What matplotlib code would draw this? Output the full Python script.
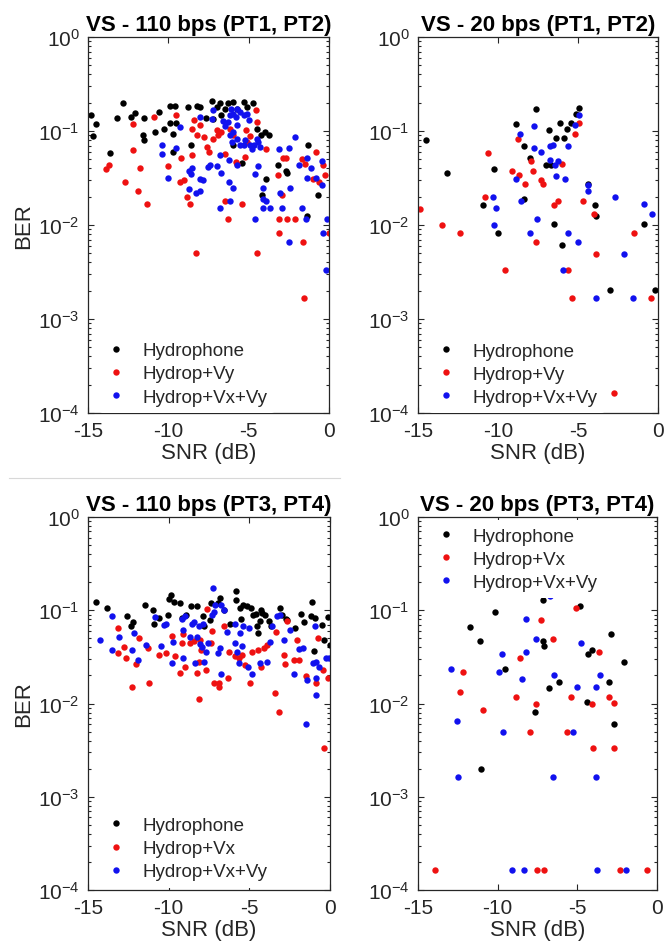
import matplotlib
matplotlib.use("Agg")
import matplotlib.pyplot as plt
from matplotlib.lines import Line2D
from matplotlib.ticker import LogLocator, NullFormatter, FixedLocator

plt.rcParams['font.family'] = ['Liberation Sans', 'DejaVu Sans']
plt.rcParams['mathtext.default'] = 'regular'

# ---------------- VS - 110 bps (PT1, PT2) ----------------
p1_hyd_snr = [-14.8, -14.5, -14.7, -13.2, -12.8, -12.1, -12.3, -11.5, -11.6, -11.5, -10.8, -13.6, -10.6,
              -10.3, -9.9, -9.9, -9.7, -9.6, -9.5, -9.7, -8.8, -8.6, -8.2, -8.0, -7.65, -7.3, -7.0, -6.8,
              -6.5, -6.3, -6.0, -5.7, -5.3, -5.1, -4.75, -4.5, -4.25, -4.0, -3.75, -5.95, -5.4, -3.9, -1.3,
              -3.15, -2.7, -2.6, -0.7, -4.2, -1.35, -7.2, -6.7]
p1_hyd_ber = [0.149, 0.118, 0.088, 0.139, 0.198, 0.155, 0.141, 0.138, 0.090, 0.080, 0.098, 0.059, 0.159,
              0.106, 0.183, 0.122, 0.094, 0.184, 0.122, 0.060, 0.180, 0.071, 0.183, 0.178, 0.139, 0.206,
              0.180, 0.198, 0.173, 0.198, 0.203, 0.173, 0.205, 0.180, 0.200, 0.106, 0.091, 0.098, 0.091,
              0.071, 0.046, 0.031, 0.071, 0.044, 0.038, 0.036, 0.021, 0.021, 0.0125, 0.135, 0.147]
p1_vy_snr = [-13.9, -13.7, -12.2, -12.2, -12.7, -11.9, -11.75, -11.3, -10.9, -10.0, -9.5, -9.2, -9.3, -9.0,
             -8.85, -8.65, -8.5, -8.4, -8.55, -8.2, -8.05, -7.8, -7.6, -7.45, -7.2, -7.0, -6.9, -6.75, -6.5,
             -6.45, -6.15, -5.95, -5.8, -5.7, -5.4, -5.15, -5.1, -4.9, -4.55, -4.5, -5.2, -3.9, -3.15, -2.95,
             -2.85, -2.7, -1.7, -1.5, -1.0, -0.8, -0.65, -0.35, -0.25, -6.3, -3.1, -2.6, -2.1, -3.1, -1.6,
             -8.3, -4.5, -1.55, -0.02]
p1_vy_ber = [0.039, 0.044, 0.120, 0.063, 0.029, 0.023, 0.040, 0.0166, 0.141, 0.042, 0.147, 0.052, 0.029,
             0.030, 0.020, 0.0166, 0.055, 0.130, 0.106, 0.090, 0.115, 0.086, 0.068, 0.060, 0.083, 0.102,
             0.091, 0.098, 0.057, 0.018, 0.106, 0.090, 0.047, 0.045, 0.0166, 0.102, 0.076, 0.088, 0.166,
             0.125, 0.053, 0.065, 0.034, 0.021, 0.051, 0.052, 0.050, 0.045, 0.031, 0.060, 0.029, 0.043,
             0.034, 0.0117, 0.0117, 0.0117, 0.0117, 0.0083, 0.0066, 0.0050, 0.0050, 0.00166, 0.0083]
p1_vxvy_snr = [-10.4, -10.4, -10.05, -9.5, -9.3, -8.7, -8.6, -8.5, -8.7, -8.3, -8.0, -8.05, -8.0, -7.85,
               -7.55, -7.4, -7.3, -7.2, -6.95, -6.8, -6.7, -6.6, -6.45, -6.3, -6.15, -6.1, -5.95, -5.8,
               -5.7, -5.75, -5.55, -5.3, -5.2, -5.1, -4.9, -4.8, -4.65, -4.5, -4.4, -4.3, -5.3, -5.0,
               -6.15, -6.05, -5.95, -5.75, -5.55, -6.25, -6.2, -5.95, -6.8, -6.15, -5.7, -4.6, -4.45,
               -4.1, -4.1, -3.9, -4.1, -3.7, -2.9, -3.1, -2.5, -2.1, -1.85, -2.4, -3.05, -1.35, -1.1,
               -0.45, -1.35, -0.8, -1.65, -1.45, -0.45, -0.1, -4.6, -2.5, -0.35, -0.2]
p1_vxvy_ber = [0.071, 0.057, 0.032, 0.066, 0.110, 0.038, 0.035, 0.040, 0.024, 0.022, 0.023, 0.141, 0.031,
               0.030, 0.041, 0.043, 0.135, 0.166, 0.042, 0.055, 0.036, 0.128, 0.112, 0.125, 0.147, 0.173,
               0.153, 0.141, 0.115, 0.173, 0.159, 0.071, 0.080, 0.153, 0.071, 0.065, 0.071, 0.083, 0.076,
               0.068, 0.147, 0.130, 0.090, 0.076, 0.098, 0.083, 0.071, 0.049, 0.029, 0.025, 0.015, 0.018,
               0.043, 0.035, 0.042, 0.025, 0.019, 0.018, 0.015, 0.015, 0.015, 0.064, 0.066, 0.086, 0.043,
               0.025, 0.022, 0.052, 0.040, 0.048, 0.032, 0.032, 0.015, 0.0117, 0.0265, 0.0115, 0.0117,
               0.0066, 0.0083, 0.0033]

# ---------------- VS - 20 bps (PT1, PT2) ----------------
p2_hyd_snr = [-14.5, -13.2, -10.95, -10.25, -10.0, -8.9, -8.4, -8.35, -8.0, -7.65, -7.0, -6.8, -6.7, -6.4,
              -6.1, -5.9, -5.7, -5.45, -5.1, -4.95, -4.35, -3.95, -3.85, -0.85, -6.5, -6.0, -3.0, -0.2]
p2_hyd_ber = [0.080, 0.0355, 0.0165, 0.039, 0.0083, 0.120, 0.069, 0.0187, 0.052, 0.173, 0.043, 0.102,
              0.043, 0.084, 0.123, 0.084, 0.104, 0.123, 0.153, 0.175, 0.027, 0.0165, 0.0124, 0.0103,
              0.0103, 0.0062, 0.00205, 0.00205]
p2_vy_snr = [-14.85, -13.5, -12.4, -10.8, -10.6, -9.15, -8.75, -8.7, -8.3, -7.95, -7.8, -7.3, -7.2, -6.5,
             -6.25, -6.0, -5.2, -4.95, -4.7, -4.0, -1.5, -7.6, -5.65, -5.4, -3.9, -9.55, -0.45, -2.75]
p2_vy_ber = [0.0147, 0.0100, 0.0083, 0.020, 0.058, 0.038, 0.083, 0.034, 0.027, 0.048, 0.038, 0.030, 0.027,
             0.0165, 0.018, 0.045, 0.094, 0.123, 0.018, 0.0132, 0.0083, 0.0066, 0.0033, 0.00166, 0.0049,
             0.0033, 0.00166, 0.000163]
p2_vxvy_snr = [-10.3, -10.15, -10.25, -8.85, -8.6, -8.55, -8.0, -7.75, -7.75, -7.55, -7.3, -6.75, -6.55,
               -6.75, -6.45, -6.25, -6.35, -5.8, -5.65, -5.6, -5.2, -4.95, -4.4, -4.35, -2.7, -0.9, -0.35,
               -5.0, -5.95, -3.85, -2.1, -1.55]
p2_vxvy_ber = [0.020, 0.015, 0.010, 0.031, 0.094, 0.018, 0.0083, 0.112, 0.066, 0.0115, 0.060, 0.069,
               0.0705, 0.049, 0.043, 0.048, 0.033, 0.031, 0.0083, 0.069, 0.117, 0.147, 0.0265, 0.023,
               0.020, 0.0166, 0.0132, 0.0066, 0.0033, 0.00166, 0.0049, 0.00166]

# ---------------- VS - 110 bps (PT3, PT4) ----------------
p3_hyd_snr = [-14.5, -13.8, -12.6, -12.35, -12.2, -11.45, -11.0, -10.9, -10.6, -10.05, -9.95, -9.85, -9.7,
              -9.3, -9.2, -8.9, -8.6, -8.25, -7.9, -7.8, -7.45, -7.35, -6.95, -6.8, -6.6, -6.2, -5.8, -5.8,
              -5.6, -5.5, -5.4, -5.15, -4.9, -4.8, -4.6, -4.55, -4.45, -4.35, -4.3, -4.2, -4.0, -3.8, -3.65,
              -3.1, -2.95, -2.7, -2.65, -2.15, -1.8, -1.6, -1.15, -1.1, -1.0, -0.95, -0.5, -0.35, -0.1, -0.02]
p3_hyd_ber = [0.123, 0.107, 0.087, 0.067, 0.074, 0.115, 0.101, 0.071, 0.082, 0.0895, 0.133, 0.147, 0.124,
              0.121, 0.082, 0.0895, 0.110, 0.110, 0.087, 0.068, 0.079, 0.119, 0.119, 0.135, 0.101, 0.072,
              0.162, 0.130, 0.107, 0.080, 0.115, 0.110, 0.106, 0.088, 0.092, 0.067, 0.057, 0.076, 0.101,
              0.093, 0.0895, 0.076, 0.067, 0.106, 0.0895, 0.080, 0.078, 0.064, 0.092, 0.074, 0.086, 0.124,
              0.037, 0.082, 0.069, 0.048, 0.084, 0.042]
p3_vx_snr = [-13.15, -13.15, -12.75, -12.65, -12.0, -11.85, -12.3, -11.3, -11.25, -10.6, -10.15, -9.8, -9.6,
             -9.3, -9.2, -9.1, -9.0, -8.7, -8.4, -8.25, -8.15, -8.15, -8.05, -8.0, -7.7, -7.6, -7.4, -7.3,
             -7.2, -6.9, -6.85, -6.6, -6.35, -6.25, -5.9, -5.65, -5.45, -5.25, -4.95, -4.85, -4.45, -4.3,
             -4.1, -3.9, -3.4, -3.35, -2.85, -2.8, -2.65, -2.25, -2.05, -1.9, -1.5, -0.85, -0.75, -0.45,
             -0.1, -3.15, -0.4]
p3_vx_ber = [0.064, 0.035, 0.040, 0.031, 0.0265, 0.051, 0.0149, 0.0395, 0.0167, 0.033, 0.035, 0.053, 0.032,
             0.0214, 0.044, 0.055, 0.0248, 0.045, 0.047, 0.0214, 0.028, 0.0113, 0.048, 0.0376, 0.023, 0.104,
             0.044, 0.060, 0.0164, 0.0167, 0.0149, 0.067, 0.0186, 0.036, 0.032, 0.0305, 0.033, 0.0259,
             0.0164, 0.036, 0.0376, 0.0248, 0.039, 0.0425, 0.013, 0.058, 0.033, 0.0265, 0.076, 0.029,
             0.048, 0.029, 0.0197, 0.0164, 0.050, 0.023, 0.0186, 0.0081, 0.0033]
p3_vxvy_snr = [-14.25, -13.5, -13.5, -13.05, -12.3, -12.15, -11.9, -11.4, -10.85, -10.5, -10.3, -10.15, -9.8,
               -9.75, -9.2, -9.1, -9.1, -9.0, -8.7, -8.55, -8.45, -8.35, -8.25, -8.15, -8.05, -7.95, -7.85,
               -7.8, -7.7, -7.55, -7.3, -7.2, -7.1, -6.95, -6.8, -6.75, -6.75, -6.55, -6.4, -5.9, -5.9,
               -5.75, -5.65, -5.55, -5.45, -5.4, -5.1, -5.05, -4.85, -4.35, -3.9, -3.75, -3.6, -3.3, -3.1,
               -2.85, -2.45, -2.25, -1.9, -1.7, -1.45, -1.05, -0.95, -0.85, -0.85, -0.7, -0.85, -0.25,
               -0.05, -1.5, -7.25]
p3_vxvy_ber = [0.048, 0.086, 0.0376, 0.052, 0.0376, 0.057, 0.029, 0.042, 0.084, 0.041, 0.070, 0.071, 0.027,
               0.046, 0.080, 0.031, 0.062, 0.086, 0.052, 0.072, 0.074, 0.027, 0.052, 0.067, 0.043, 0.040,
               0.071, 0.028, 0.036, 0.044, 0.088, 0.095, 0.115, 0.035, 0.039, 0.0205, 0.115, 0.101, 0.059,
               0.072, 0.044, 0.036, 0.027, 0.057, 0.041, 0.067, 0.0248, 0.064, 0.0207, 0.027, 0.028, 0.046,
               0.067, 0.086, 0.088, 0.048, 0.062, 0.0207, 0.038, 0.039, 0.018, 0.0274, 0.068, 0.0186,
               0.028, 0.0244, 0.0123, 0.031, 0.031, 0.0061, 0.173]

# ---------------- VS - 20 bps (PT3, PT4) ----------------
p4_hyd_snr = [-11.75, -11.1, -10.15, -9.55, -7.15, -7.15, -7.1, -6.75, -6.15, -4.85, -4.4, -4.35, -4.1,
              -3.0, -2.9, -2.1, -7.65, -11.05, -2.72]
p4_hyd_ber = [0.066, 0.047, 0.0955, 0.0232, 0.130, 0.0473, 0.0418, 0.0145, 0.0168, 0.112, 0.0105, 0.034,
              0.0376, 0.0168, 0.0554, 0.0277, 0.0082, 0.0020, 0.0061]
p4_vx_snr = [-12.35, -12.15, -10.95, -8.85, -8.6, -7.6, -7.25, -6.55, -5.4, -5.1, -4.1, -3.65, -3.0, -2.7,
             -8.0, -5.65, -4.0, -2.7, -13.95, -7.55, -7.1, -2.35, -0.6]
p4_vx_ber = [0.0134, 0.0219, 0.0086, 0.0118, 0.0305, 0.0100, 0.0777, 0.0489, 0.0118, 0.107, 0.0100,
             0.036, 0.0118, 0.0102, 0.0049, 0.0049, 0.0033, 0.0033, 0.000164, 0.000164, 0.000164,
             0.000164, 0.000164]
p4_vxvy_snr = [-12.95, -9.9, -9.75, -8.5, -8.25, -8.25, -7.6, -6.7, -6.45, -5.0, -4.75, -3.8, -3.6, -12.55,
               -9.65, -5.3, -12.5, -6.5, -3.8, -9.1, -8.35, -3.75, -1.95]
p4_vxvy_ber = [0.0236, 0.0219, 0.034, 0.0183, 0.0354, 0.081, 0.0489, 0.143, 0.0202, 0.0151, 0.0443, 0.0151,
               0.0202, 0.0065, 0.0049, 0.0049, 0.00162, 0.00162, 0.00162, 0.000164, 0.000164, 0.000164,
               0.000164]

titles = ['VS - 110 bps (PT1, PT2)', 'VS - 20 bps (PT1, PT2)',
          'VS - 110 bps (PT3, PT4)', 'VS - 20 bps (PT3, PT4)']
legend_labels = [['Hydrophone', 'Hydrop+Vy', 'Hydrop+Vx+Vy'],
                 ['Hydrophone', 'Hydrop+Vy', 'Hydrop+Vx+Vy'],
                 ['Hydrophone', 'Hydrop+Vx', 'Hydrop+Vx+Vy'],
                 ['Hydrophone', 'Hydrop+Vx', 'Hydrop+Vx+Vy']]
panels = [
    [(p1_hyd_snr, p1_hyd_ber), (p1_vy_snr, p1_vy_ber), (p1_vxvy_snr, p1_vxvy_ber)],
    [(p2_hyd_snr, p2_hyd_ber), (p2_vy_snr, p2_vy_ber), (p2_vxvy_snr, p2_vxvy_ber)],
    [(p3_hyd_snr, p3_hyd_ber), (p3_vx_snr, p3_vx_ber), (p3_vxvy_snr, p3_vxvy_ber)],
    [(p4_hyd_snr, p4_hyd_ber), (p4_vx_snr, p4_vx_ber), (p4_vxvy_snr, p4_vxvy_ber)],
]
colors = ['#000000', '#ee1111', '#1111ee']

W, H = 665, 953
fig = plt.figure(figsize=(W / 100, H / 100), dpi=100)
fig.patch.set_facecolor('white')

# axes boxes in pixels: left, top, right, bottom
boxes = [(88, 38, 329, 414), (418, 38, 658, 414),
         (88, 518, 330, 891), (418, 518, 657, 891)]
legend_pos = [('lower left', (0.0, -0.03)), ('lower left', (0.0, -0.031)),
              ('lower left', (0.0, -0.024)), ('upper left', (0.0, 1.022))]

axis_color = '#262626'
for i, (l, t, r, b) in enumerate(boxes):
    ax = fig.add_axes([l / W, 1 - b / H, (r - l) / W, (b - t) / H])
    handles = []
    for (xs, ys), c, lab in zip(panels[i], colors, legend_labels[i]):
        h, = ax.plot(xs, ys, linestyle='none', marker='o', markersize=4.6,
                     markerfacecolor=c, markeredgewidth=0, label=lab)
        handles.append(h)
    ax.set_yscale('log')
    ax.set_xlim(-15, 0)
    ax.set_ylim(1e-4, 1)
    ax.xaxis.set_major_locator(FixedLocator([-15, -10, -5, 0]))
    ax.set_xticklabels(['-15', '-10', '-5', '0'])
    ax.yaxis.set_major_locator(LogLocator(base=10, numticks=10))
    ax.yaxis.set_minor_locator(LogLocator(base=10, subs=range(2, 10), numticks=20))
    ax.yaxis.set_minor_formatter(NullFormatter())
    ax.tick_params(which='both', direction='in', top=True, right=True, colors=axis_color,
                   labelcolor='#262626', labelsize=15, width=0.8)
    ax.tick_params(which='major', length=4.5, pad=6)
    ax.tick_params(which='minor', length=2.2)
    for s in ax.spines.values():
        s.set_color(axis_color)
        s.set_linewidth(0.9)
    ax.set_title(titles[i], fontsize=16, fontweight='bold', pad=5, color='black')
    ax.set_xlabel('SNR (dB)', fontsize=16, color='#262626', labelpad=1)
    if i in (0, 2):
        ax.set_ylabel('BER', fontsize=16, color='#262626', labelpad=3)
    loc, anchor = legend_pos[i]
    leg = ax.legend(handles=handles, loc=loc, bbox_to_anchor=anchor, fontsize=13.5,
                    frameon=True, facecolor='white', edgecolor='none', framealpha=1,
                    handlelength=1.0, handletextpad=0.9, labelspacing=0.32,
                    borderpad=0.4, borderaxespad=0.6, markerscale=1.0)
    for txt in leg.get_texts():
        txt.set_color('#262626')

# thin separator between upper and lower rows
fig.add_artist(Line2D([9 / W, 340 / W], [1 - 479 / H, 1 - 479 / H],
                      color='#d8d8d8', linewidth=0.8))

fig.savefig('out.png', dpi=100, facecolor='white')
